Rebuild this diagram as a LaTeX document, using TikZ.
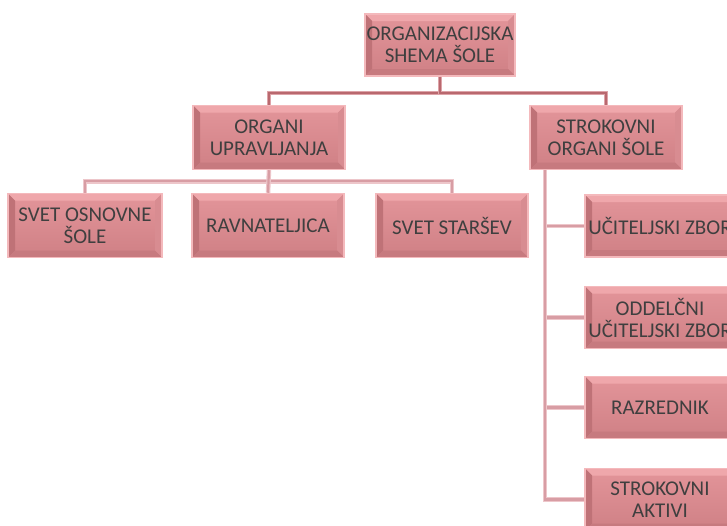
\documentclass[tikz,border=0pt]{standalone}
\usepackage{fontspec}
\newfontfamily\boxfont{Carlito}
\definecolor{rim}{HTML}{F4B9BC}
\definecolor{faceTop}{HTML}{E3959A}
\definecolor{faceBot}{HTML}{CF8085}
\definecolor{bevelTop}{HTML}{EFA7AB}
\definecolor{bevelLeft}{HTML}{BF7277}
\definecolor{bevelRight}{HTML}{D88C91}
\definecolor{bevelBot}{HTML}{C77A7F}
\definecolor{textgray}{HTML}{3F3F3F}
\definecolor{linkA}{HTML}{B9686E}
\definecolor{linkAedge}{HTML}{DDA3A8}
\definecolor{linkB}{HTML}{D89DA4}
\definecolor{linkBedge}{HTML}{EDC6CA}
\tikzset{
  orgbox/.style={
    draw=rim, line width=1.5pt, inner sep=0pt, align=center,
    minimum width=152pt, minimum height=64pt,
    text=textgray, font=\boxfont\fontsize{21}{22}\selectfont,
    path picture={
      \fill[top color=faceTop, bottom color=faceBot]
        (path picture bounding box.south west) rectangle (path picture bounding box.north east);
      % bevelled edges
      \fill[bevelTop] (path picture bounding box.north west) -- (path picture bounding box.north east)
        -- ([xshift=-7pt,yshift=-7pt]path picture bounding box.north east)
        -- ([xshift=7pt,yshift=-7pt]path picture bounding box.north west) -- cycle;
      \fill[bevelLeft] (path picture bounding box.north west) -- (path picture bounding box.south west)
        -- ([xshift=7pt,yshift=7pt]path picture bounding box.south west)
        -- ([xshift=7pt,yshift=-7pt]path picture bounding box.north west) -- cycle;
      \fill[bevelRight] (path picture bounding box.north east) -- (path picture bounding box.south east)
        -- ([xshift=-7pt,yshift=7pt]path picture bounding box.south east)
        -- ([xshift=-7pt,yshift=-7pt]path picture bounding box.north east) -- cycle;
      \fill[bevelBot] (path picture bounding box.south west) -- (path picture bounding box.south east)
        -- ([xshift=-7pt,yshift=7pt]path picture bounding box.south east)
        -- ([xshift=7pt,yshift=7pt]path picture bounding box.south west) -- cycle;
    }},
  narrowbox/.style={orgbox, minimum width=150pt, minimum height=62pt},
  linkmain/.style={draw=linkAedge, line width=4.5pt,
    postaction={draw=linkA, line width=2.2pt}},
  linksub/.style={draw=linkBedge, line width=4.5pt,
    postaction={draw=linkB, line width=2.2pt}},
}
\begin{document}
\begin{tikzpicture}[x=1pt,y=-1pt]
  \useasboundingbox (0,0) rectangle (727,525);
  \clip (0,0) rectangle (727,525);
  \fill[white] (0,0) rectangle (727,525);

  % boxes
  \node[narrowbox] (top) at (440,45) {ORGANIZACIJSKA\\SHEMA ŠOLE};
  \node[orgbox] (org) at (269,137.5) {ORGANI\\UPRAVLJANJA};
  \node[orgbox] (str) at (606,137.5) {STROKOVNI\\ORGANI ŠOLE};
  \node[orgbox, minimum width=154pt] (svos) at (85,225.5) {SVET OSNOVNE\\ŠOLE};
  \node[orgbox] (rav) at (268,225.5) {RAVNATELJICA};
  \node[orgbox] (svst) at (452,225.5) {SVET STARŠEV};
  \node[narrowbox] (uz) at (660,226) {UČITELJSKI ZBOR};
  \node[narrowbox] (ouz) at (660,317.5) {ODDELČNI\\UČITELJSKI ZBOR};
  \node[narrowbox] (raz) at (660,407.5) {RAZREDNIK};
  \node[narrowbox] (sak) at (660,499.5) {STROKOVNI\\AKTIVI};

  % connectors
  \path[linkmain] (top.south) -- ++(0,16) -| (org.north);
  \path[linkmain] (top.south) -- ++(0,16) -| (str.north);
  \path[linksub] (org.south) -- ++(0,11) -| (svos.north);
  \path[linksub] (org.south) -- ++(0,11) -| (svst.north);
  \path[linksub] (org.south) -- (rav.north);
  \coordinate (spine) at ([xshift=-61pt]str.south);
  \path[linksub] (spine) |- (uz.west);
  \path[linksub] (spine) |- (ouz.west);
  \path[linksub] (spine) |- (raz.west);
  \path[linksub] (spine) |- (sak.west);
\end{tikzpicture}
\end{document}
